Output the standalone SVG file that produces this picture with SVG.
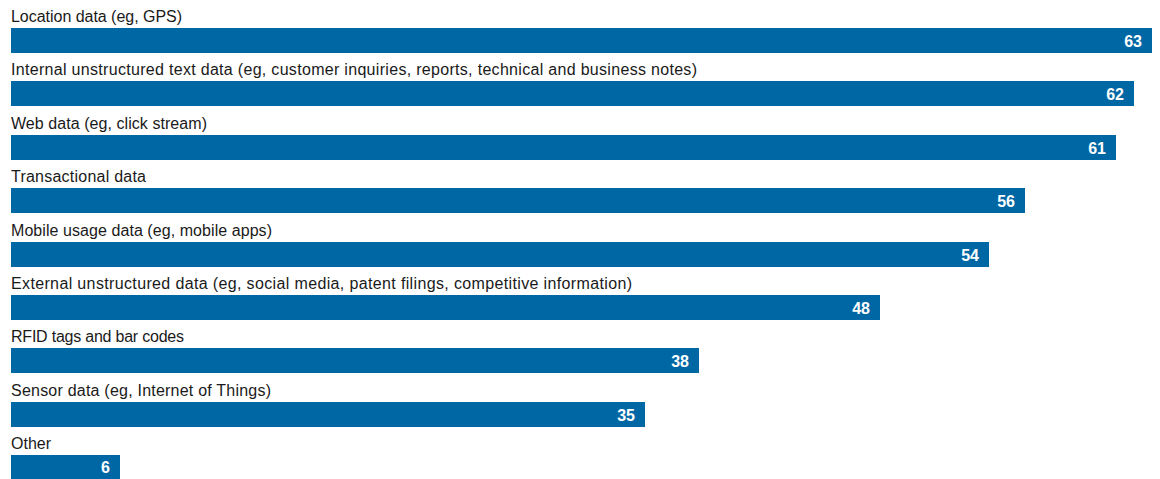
<svg xmlns="http://www.w3.org/2000/svg" width="1160" height="479" viewBox="0 0 1160 479">
<style>
.bar{fill:#0067a5}
.lbl{font-family:"Liberation Sans",Arial,sans-serif;font-size:16px;fill:#1a1a1a}
.val{font-family:"Liberation Sans",Arial,sans-serif;font-size:16px;font-weight:bold;fill:#ffffff;text-anchor:end}
</style>
<rect width="1160" height="479" fill="#ffffff"/>
<g id="bar-location">
<text class="lbl" x="11" y="22" textLength="171">Location data (eg, GPS)</text>
<rect class="bar" x="11" y="28" width="1141" height="25"/>
<text class="val" x="1142" y="47">63</text>
</g>
<g id="bar-internal">
<text class="lbl" x="11" y="75" textLength="686">Internal unstructured text data (eg, customer inquiries, reports, technical and business notes)</text>
<rect class="bar" x="11" y="81" width="1123" height="25"/>
<text class="val" x="1124" y="100">62</text>
</g>
<g id="bar-web">
<text class="lbl" x="11" y="129" textLength="196">Web data (eg, click stream)</text>
<rect class="bar" x="11" y="135" width="1105" height="25"/>
<text class="val" x="1106" y="154">61</text>
</g>
<g id="bar-transactional">
<text class="lbl" x="11" y="182" textLength="135">Transactional data</text>
<rect class="bar" x="11" y="188" width="1014" height="25"/>
<text class="val" x="1015" y="207">56</text>
</g>
<g id="bar-mobile">
<text class="lbl" x="11" y="236" textLength="261">Mobile usage data (eg, mobile apps)</text>
<rect class="bar" x="11" y="242" width="978" height="25"/>
<text class="val" x="979" y="261">54</text>
</g>
<g id="bar-external">
<text class="lbl" x="11" y="289" textLength="621">External unstructured data (eg, social media, patent filings, competitive information)</text>
<rect class="bar" x="11" y="295" width="869" height="25"/>
<text class="val" x="870" y="314">48</text>
</g>
<g id="bar-rfid">
<text class="lbl" x="11" y="342" textLength="173">RFID tags and bar codes</text>
<rect class="bar" x="11" y="348" width="688" height="25"/>
<text class="val" x="689" y="367">38</text>
</g>
<g id="bar-sensor">
<text class="lbl" x="11" y="396" textLength="260">Sensor data (eg, Internet of Things)</text>
<rect class="bar" x="11" y="402" width="634" height="25"/>
<text class="val" x="635" y="421">35</text>
</g>
<g id="bar-other">
<text class="lbl" x="11" y="449" textLength="40">Other</text>
<rect class="bar" x="11" y="455" width="109" height="24"/>
<text class="val" x="110" y="473">6</text>
</g>
<g id="connectors"/>
</svg>
